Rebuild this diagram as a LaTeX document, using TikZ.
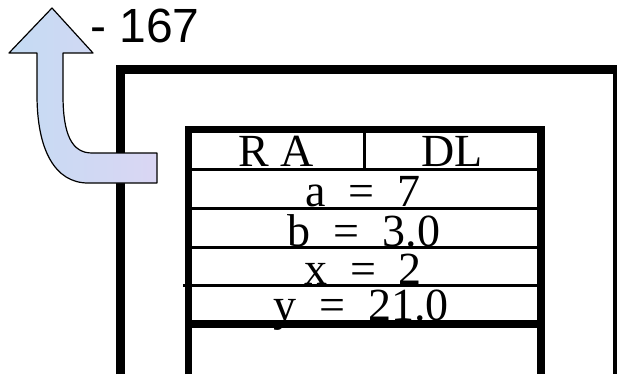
\documentclass[tikz,border=0pt]{standalone}
\usepackage{fontspec}
\usepackage{tikz}
\usetikzlibrary{positioning}
\setmainfont{Liberation Serif}
\newfontfamily\labelfont{Liberation Sans}
\definecolor{ink}{HTML}{000000}
\definecolor{arrowblue}{HTML}{C4DBF3}
\definecolor{arrowlilac}{HTML}{DAD6F3}
\tikzset{
  frame/.style={draw=ink,line width=9pt,line join=miter},
  tableedge/.style={draw=ink,line width=7.5pt,line join=miter},
  rowline/.style={draw=ink,line width=3pt},
  baseline/.style={draw=ink,line width=8pt},
  cell/.style={font=\fontsize{46}{46}\selectfont,inner sep=0pt,anchor=base,text height=30pt,text depth=1pt},
  tag/.style={font=\labelfont\fontsize{48}{48}\selectfont,inner sep=0pt,anchor=base west},
  returnarrow/.style={draw=ink,line width=1.2pt,line join=round,left color=arrowblue,right color=arrowlilac},
}
\begin{document}
\begin{tikzpicture}[x=1pt,y=-1pt]
\useasboundingbox (0,0) rectangle (617,374);

% Outer frame
\draw[frame] (120,374) -- (120,69.5) -- (617.5,69.5) -- (617.5,374);

% Activation record
\draw[tableedge] (188.5,374) -- (188.5,129.5) -- (541,129.5) -- (541,374);
\draw[rowline] (364.5,129.5) -- (364.5,169.5);
\foreach \y in {169.5,208.5,247.5} {\draw[rowline] (188.5,\y) -- (541,\y);}
\draw[rowline] (183,285.5) -- (541,285.5);
\draw[baseline] (188.5,324) -- (541,324);

\node[cell] (ra) at (276.5,166) {R\ A};
\node[cell] (dl) at (452,166) {DL};
\node[cell] (vara) at (363,206) {a\ \ =\ \ 7};
\node[cell] (varb) at (364,246) {b\ \ =\ \ 3.0};
\node[cell] (varx) at (363,284) {x\ \ =\ \ 2};
\node[cell] (vary) at (361,320) {y\ \ =\ \ 21.0};

% Return arrow
\draw[returnarrow] (52,8) -- (93,53) -- (63,53) -- (63,95)
  .. controls (63,135) and (72,153) .. (92,153) -- (157,153) -- (157,183) -- (88,183)
  .. controls (55,183) and (37,150) .. (37,95) -- (37,53) -- (9,53) -- cycle;
\node[tag] (ret) at (90,43) {- 167};

\end{tikzpicture}
\end{document}
